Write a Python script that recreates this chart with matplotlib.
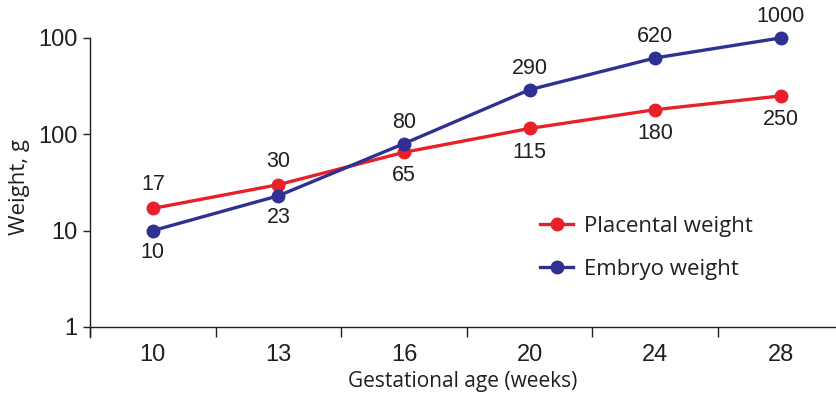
import matplotlib
matplotlib.use("Agg")
import matplotlib.pyplot as plt
from matplotlib.ticker import FixedLocator, NullFormatter

weeks = ["10", "13", "16", "20", "24", "28"]
placental = [17, 30, 65, 115, 180, 250]
embryo = [10, 23, 80, 290, 620, 1000]
placental_pos = ["above", "above", "below", "below", "below", "below"]
embryo_pos = ["below", "below", "above", "above", "above", "above"]
ytick_vals = [1, 10, 100, 1000]
ytick_labels = ["1", "10", "100", "100"]

RED = "#E8202A"
BLUE = "#2E3192"
TXT = "#231F20"

plt.rcParams['font.family'] = ['Liberation Sans', 'DejaVu Sans']

fig = plt.figure(figsize=(8.36, 3.93), dpi=100)
ax = fig.add_axes([0.1077, 0.1425, 1 - 0.1077, 0.761])

x = list(range(len(weeks)))
ax.plot(x, placental, color=RED, lw=2.4, marker='o', ms=9, label="Placental weight", zorder=3, clip_on=False)
ax.plot(x, embryo, color=BLUE, lw=2.4, marker='o', ms=9, label="Embryo weight", zorder=3, clip_on=False)

for xi, v, p in zip(x, placental, placental_pos):
    ax.annotate(str(v), (xi, v), xytext=(0, 17 if p == "above" else -17),
                textcoords='offset points', ha='center', va='center', fontsize=15.5, color=TXT)
for xi, v, p in zip(x, embryo, embryo_pos):
    ax.annotate(str(v), (xi, v), xytext=(0, 15.5 if p == "above" else -16),
                textcoords='offset points', ha='center', va='center', fontsize=15.5, color=TXT)

ax.set_yscale('log')
ax.set_ylim(0.787, 1000)
ax.set_xlim(-0.5, 5.44)
ax.set_yticks(ytick_vals)
ax.set_yticklabels(ytick_labels)
ax.yaxis.set_minor_locator(FixedLocator([]))
ax.yaxis.set_minor_formatter(NullFormatter())
ax.tick_params(axis='y', which='major', direction='out', length=5, width=1, labelsize=17, pad=4, colors=TXT)

ax.set_xticks(x)
ax.set_xticklabels(weeks)
ax.set_xticks([-0.5, 0.5, 1.5, 2.5, 3.5, 4.5], minor=True)
ax.tick_params(axis='x', which='major', length=0, labelsize=17, pad=12, colors=TXT)
ax.tick_params(axis='x', which='minor', direction='out', length=7, width=1, color=TXT)

ax.spines['top'].set_visible(False)
ax.spines['right'].set_visible(False)
ax.spines['bottom'].set_position(('data', 1))
for s in ['left', 'bottom']:
    ax.spines[s].set_color(TXT)
    ax.spines[s].set_linewidth(1)

ax.set_ylabel("Weight, g", fontsize=16, color=TXT, labelpad=6, family=['Open Sans', 'DejaVu Sans'])
ax.set_xlabel("Gestational age (weeks)", fontsize=15, color=TXT, labelpad=4, family=['Open Sans', 'DejaVu Sans'])

leg = fig.legend(loc='center left', bbox_to_anchor=(540 / 836, 1 - 248 / 393), bbox_transform=fig.transFigure,
                 frameon=False, handlelength=1.5, labelspacing=1.0, handletextpad=0.5,
                 borderpad=0, borderaxespad=0,
                 prop={'family': ['Open Sans', 'DejaVu Sans'], 'size': 16})
for t in leg.get_texts():
    t.set_color(TXT)

fig.savefig("out.png", dpi=100)
